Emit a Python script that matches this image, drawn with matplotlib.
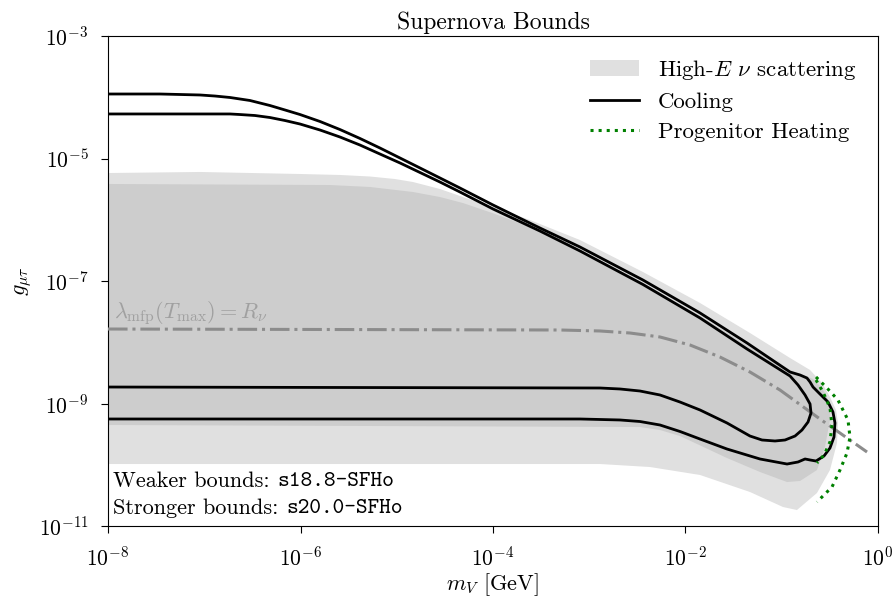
import numpy as np
import matplotlib
matplotlib.use("Agg")
import matplotlib.pyplot as plt
from matplotlib.patches import Patch
from matplotlib.lines import Line2D
from matplotlib.ticker import NullLocator

plt.rcParams['font.family'] = 'serif'
plt.rcParams['font.serif'] = ['cmr10']
plt.rcParams['mathtext.fontset'] = 'cm'
plt.rcParams['axes.formatter.use_mathtext'] = True
plt.rcParams['axes.unicode_minus'] = True

# ---- data (log10 values) ----
# High-E nu scattering, stronger bounds (light region, closed polygon)
scat_strong_logm = [-8.000, -7.044, -6.005, -5.590, -5.278, -5.018, -4.831, -4.551, -4.312,
                    -3.616, -3.096, -2.442, -1.849, -1.330, -0.914, -0.706, -0.582, -0.499,
                    -0.436, -0.416, -0.426, -0.499, -0.634, -0.842, -0.987, -1.330, -1.849,
                    -2.369, -2.888, -8.000]
scat_strong_logg = [-5.237, -5.220, -5.253, -5.269, -5.294, -5.335, -5.384, -5.498, -5.629,
                    -6.004, -6.331, -6.853, -7.359, -7.849, -8.257, -8.453, -8.665, -8.894,
                    -9.106, -9.318, -9.645, -10.086, -10.461, -10.739, -10.690, -10.445, -10.167,
                    -10.037, -9.988, -9.988]
# High-E nu scattering, weaker bounds (darker region)
scat_weak_logm = [-8.000, -5.694, -5.278, -4.831, -4.551, -4.312, -3.979, -3.616, -3.096,
                  -2.442, -1.849, -1.330, -0.914, -0.675, -0.582, -0.530, -0.499, -0.499,
                  -0.551, -0.634, -0.810, -0.945, -1.226, -1.569, -2.057, -2.265, -2.473, -8.000]
scat_weak_logg = [-5.416, -5.433, -5.465, -5.547, -5.629, -5.727, -5.906, -6.118, -6.494,
                  -7.033, -7.571, -8.078, -8.453, -8.600, -8.747, -8.894, -9.106, -9.269,
                  -9.710, -10.086, -10.265, -10.282, -10.118, -9.890, -9.531, -9.433, -9.384, -9.351]

# Cooling, weaker bounds (inner contour: upper branch, tip, lower branch)
cool_weak_logm = [-8.000, -7.044, -6.732, -6.629, -6.473, -6.317, -6.161, -6.005, -5.797,
                  -5.590, -5.382, -5.174, -4.966, -4.758, -4.551, -4.343, -4.000, -3.512,
                  -3.096, -2.442, -1.849, -1.361, -0.914, -0.831, -0.758, -0.706, -0.696,
                  -0.727, -0.790, -0.862, -0.966, -1.070, -1.205, -1.330, -1.569, -1.849,
                  -2.057, -2.265, -2.473, -2.681, -2.888, -8.000]
cool_weak_logg = [-4.273, -4.273, -4.273, -4.282, -4.298, -4.331, -4.380, -4.437, -4.535,
                  -4.649, -4.780, -4.927, -5.073, -5.229, -5.384, -5.547, -5.824, -6.184,
                  -6.510, -7.057, -7.604, -8.110, -8.551, -8.698, -8.861, -9.008, -9.155,
                  -9.302, -9.433, -9.531, -9.596, -9.612, -9.596, -9.531, -9.318, -9.106,
                  -8.976, -8.861, -8.796, -8.763, -8.747, -8.731]
# Cooling, stronger bounds (outer contour)
cool_strong_logm = [-8.000, -7.460, -7.044, -6.888, -6.732, -6.525, -6.317, -6.161, -6.005,
                    -5.797, -5.590, -5.382, -5.174, -4.966, -4.758, -4.551, -4.343, -4.000,
                    -3.512, -3.096, -2.442, -1.849, -1.361, -0.914, -0.810, -0.738, -0.706,
                    -0.675, -0.603, -0.519, -0.468, -0.447, -0.457, -0.499, -0.561, -0.644,
                    -0.706, -0.758, -0.831, -0.945, -1.226, -1.569, -1.849, -2.057, -2.265,
                    -2.473, -2.681, -2.888, -3.096, -8.000]
cool_strong_logg = [-3.947, -3.947, -3.963, -3.980, -4.004, -4.053, -4.135, -4.208, -4.282,
                    -4.396, -4.527, -4.673, -4.829, -4.992, -5.155, -5.318, -5.482, -5.759,
                    -6.135, -6.445, -6.984, -7.522, -8.012, -8.486, -8.535, -8.584, -8.649,
                    -8.731, -8.845, -8.976, -9.139, -9.318, -9.547, -9.727, -9.857, -9.939,
                    -9.922, -9.906, -9.955, -9.988, -9.906, -9.743, -9.580, -9.457, -9.351,
                    -9.294, -9.269, -9.261, -9.253, -9.253]

# Progenitor heating
prog_strong_logm = [-0.644, -0.530, -0.416, -0.312, -0.291, -0.322, -0.395, -0.478, -0.634]
prog_strong_logg = [-8.567, -8.747, -8.943, -9.269, -9.547, -9.808, -10.086, -10.363, -10.608]
prog_weak_logm = [-0.644, -0.571, -0.499, -0.478, -0.499, -0.561, -0.634]
prog_weak_logg = [-8.616, -8.812, -9.073, -9.351, -9.629, -9.841, -9.971]

# lambda_mfp(T_max) = R_nu
mfp_logm = [-8.000, -3.304, -2.888, -2.577, -2.265, -1.953, -1.642, -1.330, -1.018, -0.603, -0.114]
mfp_logg = [-7.784, -7.800, -7.816, -7.849, -7.914, -8.045, -8.241, -8.486, -8.780, -9.253, -9.792]

xticks = [1e-8, 1e-6, 1e-4, 1e-2, 1e0]
yticks = [1e-11, 1e-9, 1e-7, 1e-5, 1e-3]

def p(a):
    return 10 ** np.asarray(a)

fig = plt.figure(figsize=(8.95, 6.02), dpi=100)
ax = fig.add_axes([108/895, 76/602, 770/895, 490/602])
ax.set_xscale('log')
ax.set_yscale('log')

light = '#e0e0e0'
dark = '#cdcdcd'
ax.fill(p(scat_strong_logm), p(scat_strong_logg), color=light, lw=0, zorder=1)
ax.fill(p(scat_weak_logm), p(scat_weak_logg), color=dark, lw=0, zorder=2)

ax.plot(p(mfp_logm), p(mfp_logg), color='#8c8c8c', ls='-.', lw=2.2, zorder=3)
ax.text(1.15e-8, 10**-7.75, r'$\lambda_{\rm mfp}(T_{\rm max}) = R_\nu$',
        color='#a0a0a0', fontsize=16, va='bottom', ha='left', zorder=3)

kw = dict(color='black', lw=2.0, zorder=4, solid_joinstyle='round')
ax.plot(p(cool_weak_logm), p(cool_weak_logg), **kw)
ax.plot(p(cool_strong_logm), p(cool_strong_logg), **kw)

ax.plot(p(prog_strong_logm), p(prog_strong_logg), color='green', ls=':', lw=2.2, zorder=5)
ax.plot(p(prog_weak_logm), p(prog_weak_logg), color='green', ls=':', lw=2.2, zorder=5)

ax.set_xlim(1e-8, 1e0)
ax.set_ylim(1e-11, 1e-3)
ax.set_xticks(xticks)
ax.set_yticks(yticks)
ax.xaxis.set_minor_locator(NullLocator())
ax.yaxis.set_minor_locator(NullLocator())
ax.tick_params(axis='both', which='major', labelsize=15.5, length=5, pad=9)

ax.set_xlabel(r'$m_V$ [GeV]', fontsize=16, labelpad=1)
ax.set_ylabel(r'$g_{\mu\tau}$', fontsize=16, labelpad=3)
ax.set_title('Supernova Bounds', fontsize=17, pad=5)

handles = [Patch(facecolor=light, edgecolor='none'),
           Line2D([], [], color='black', lw=2.0),
           Line2D([], [], color='green', ls=':', lw=2.2)]
labels = [r'High-$E$ $\nu$ scattering', 'Cooling', 'Progenitor Heating']
ax.legend(handles, labels, loc='upper right', frameon=False, fontsize=16.5,
          handlelength=2.1, handletextpad=0.83, labelspacing=0.45,
          borderaxespad=0.55)

t1 = ax.text(0.007, 0.0796, 'Weaker bounds: ', transform=ax.transAxes, fontsize=16,
             va='baseline', ha='left', zorder=6)
ax.annotate('s18.8-SFHo', xy=(1, 0), xycoords=t1, fontsize=16, family='cmtt10',
            va='bottom', ha='left', zorder=6)
t2 = ax.text(0.007, 0.0245, 'Stronger bounds: ', transform=ax.transAxes, fontsize=16,
             va='baseline', ha='left', zorder=6)
ax.annotate('s20.0-SFHo', xy=(1, 0), xycoords=t2, fontsize=16, family='cmtt10',
            va='bottom', ha='left', zorder=6)

fig.savefig('out.png', dpi=100)
